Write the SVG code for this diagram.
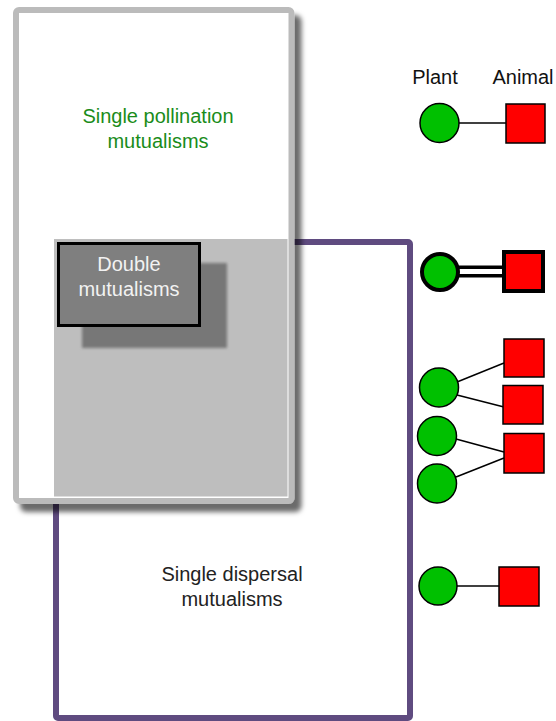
<svg xmlns="http://www.w3.org/2000/svg" width="556" height="721" viewBox="0 0 556 721">
<defs>
<filter id="shadow" x="-10%" y="-10%" width="130%" height="130%">
<feDropShadow dx="7" dy="8" stdDeviation="2.5" flood-color="#000" flood-opacity="0.58"/>
</filter>
<filter id="blur" x="-10%" y="-10%" width="120%" height="120%">
<feGaussianBlur stdDeviation="1.5"/>
</filter>
<style>
text{font-family:"Liberation Sans",Arial,sans-serif;font-size:20px;text-anchor:middle}
.plant{fill:#00c000;stroke:#000;stroke-width:1.5}
.animal{fill:#ff0000;stroke:#000;stroke-width:1.5}
.thick{stroke-width:4}
.link{stroke:#000;stroke-width:1.5;fill:none}
</style>
</defs>
<rect width="556" height="721" fill="#fff"/>

<g id="dispersal">
<rect x="56" y="242" width="354" height="476" rx="2" fill="#fff" stroke="#5f4b80" stroke-width="6"/>
<text x="232" y="581" fill="#222">Single dispersal</text>
<text x="232" y="606" fill="#222">mutualisms</text>
</g>

<g id="pollination">
<rect x="16" y="10" width="275.5" height="491" rx="3" fill="#fff" stroke="#bbbbbb" stroke-width="6" filter="url(#shadow)"/>
<text x="158" y="123" fill="#1a8c1a">Single pollination</text>
<text x="158" y="148" fill="#1a8c1a">mutualisms</text>
</g>

<g id="overlap">
<rect x="54" y="239" width="233.5" height="257.5" fill="#bebebe"/>
</g>

<g id="double">
<rect x="82" y="263" width="145" height="85" fill="#777" filter="url(#blur)"/>
<rect x="58.5" y="243.5" width="141" height="82" fill="#7f7f7f" stroke="#000" stroke-width="3"/>
<text x="129" y="271" fill="#f2f2f2">Double</text>
<text x="129" y="296" fill="#f2f2f2">mutualisms</text>
</g>

<g id="legend-labels">
<text x="435" y="84" fill="#111">Plant</text>
<text x="523" y="84" fill="#111">Animal</text>
</g>

<g id="connectors">
<line class="link" x1="459" y1="123" x2="506" y2="123"/>
<line x1="458" y1="271.5" x2="504" y2="271.5" stroke="#000" stroke-width="12"/>
<line x1="456" y1="271.5" x2="505" y2="271.5" stroke="#fff" stroke-width="5"/>
<line class="link" x1="457" y1="382" x2="504" y2="363"/>
<line class="link" x1="457" y1="395" x2="504" y2="407"/>
<line class="link" x1="456" y1="439" x2="504" y2="452"/>
<line class="link" x1="456" y1="477" x2="504" y2="458"/>
<line class="link" x1="457" y1="586" x2="499" y2="586"/>
</g>

<g id="pair-single">
<circle class="plant" cx="439.5" cy="123" r="19.5"/>
<rect class="animal" x="506" y="104" width="39" height="39"/>
</g>

<g id="pair-double">
<circle class="plant thick" cx="440" cy="272" r="18"/>
<rect class="animal thick" x="504" y="252" width="39" height="39"/>
</g>

<g id="network">
<circle class="plant" cx="439" cy="387.5" r="19.5"/>
<circle class="plant" cx="437" cy="436" r="19.5"/>
<circle class="plant" cx="437" cy="483.5" r="19.5"/>
<rect class="animal" x="504" y="339" width="40" height="38"/>
<rect class="animal" x="503" y="385.5" width="40" height="38.5"/>
<rect class="animal" x="504" y="433.5" width="40" height="39.5"/>
</g>

<g id="pair-dispersal">
<circle class="plant" cx="438" cy="586" r="19"/>
<rect class="animal" x="499" y="567" width="40" height="39"/>
</g>
</svg>
